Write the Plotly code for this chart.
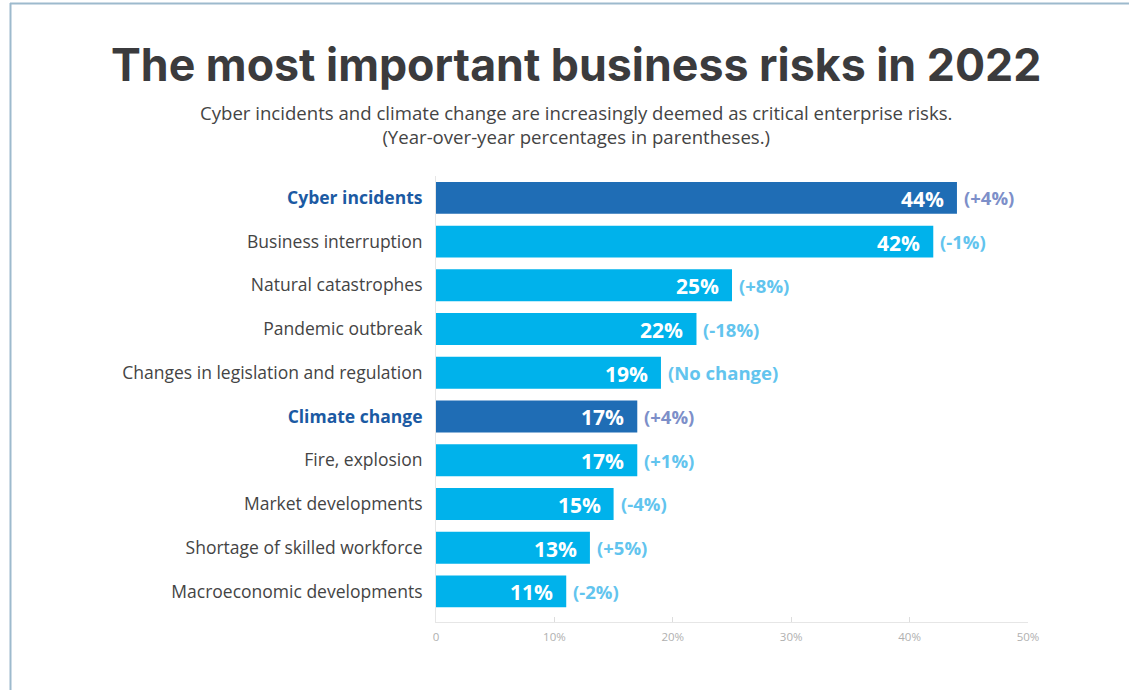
import plotly.graph_objects as go

categories = ["Cyber incidents", "Business interruption", "Natural catastrophes",
              "Pandemic outbreak", "Changes in legislation and regulation",
              "Climate change", "Fire, explosion", "Market developments",
              "Shortage of skilled workforce", "Macroeconomic developments"]
values = [44, 42, 25, 22, 19, 17, 17, 15, 13, 11]
changes = ["(+4%)", "(-1%)", "(+8%)", "(-18%)", "(No change)",
           "(+4%)", "(+1%)", "(-4%)", "(+5%)", "(-2%)"]
highlight = [True, False, False, False, False, True, False, False, False, False]
tick_vals = [0, 10, 20, 30, 40, 50]
tick_text = ["0", "10%", "20%", "30%", "40%", "50%"]

DARK = "#1f6db5"
LIGHT = "#00b2eb"
DARK_TXT = "#7d8fc9"
LIGHT_TXT = "#62c4ee"

W, H = 1129, 690
ml, mr, mt, mb = 436, 101, 176, 68

def py(pix):
    return (H - mb - pix) / (H - mt - mb)

def px(pix):
    return (pix - ml) / (W - ml - mr)

bar_colors = [DARK if h else LIGHT for h in highlight]
ticktext_y = [
    f"<b><span style='color:#1b5aa3'>{c}</span></b>" if h else c
    for c, h in zip(categories, highlight)
]

fig = go.Figure()
fig.add_trace(go.Bar(
    x=values, y=categories, orientation="h",
    marker=dict(color=bar_colors, line=dict(width=0)),
    hoverinfo="skip",
))

for c, v, ch, h in zip(categories, values, changes, highlight):
    fig.add_annotation(
        x=v, y=c, xref="x", yref="y", text=f"<b>{v}%</b>",
        showarrow=False, xanchor="right", xshift=-11, yshift=-1,
        font=dict(size=21, color="white", family="Open Sans"),
    )
    fig.add_annotation(
        x=v, y=c, xref="x", yref="y", text=f"<b>{ch}</b>",
        showarrow=False, xanchor="left", xshift=5,
        font=dict(size=18.5, color=DARK_TXT if h else LIGHT_TXT, family="Open Sans"),
    )

fig.add_annotation(
    x=px(576), y=py(65), xref="paper", yref="paper",
    xanchor="center", yanchor="middle",
    text="<b>The most important business risks in 2022</b>", showarrow=False,
    font=dict(size=44.7, color="#3b3b3d", family="Inter", weight=900),
)
fig.add_annotation(
    x=px(576), y=py(124), xref="paper", yref="paper",
    xanchor="center", yanchor="middle", showarrow=False,
    text="Cyber incidents and climate change are increasingly deemed as critical enterprise risks.<br>(Year-over-year percentages in parentheses.)",
    font=dict(size=18.6, color="#444444", family="Open Sans"),
)

fig.update_layout(
    width=W, height=H,
    margin=dict(l=ml, r=mr, t=mt, b=mb),
    paper_bgcolor="white", plot_bgcolor="white",
    showlegend=False, bargap=0.27,
    xaxis=dict(range=[0, 50], tickvals=tick_vals, ticktext=tick_text,
               showgrid=False, zeroline=False, showline=True,
               linecolor="#e6e6e6", linewidth=1,
               ticks="inside", ticklen=5, tickcolor="#dddddd",
               ticklabelstandoff=4,
               tickfont=dict(size=11.5, color="#b0b0b0", family="Open Sans"),
               fixedrange=True),
    yaxis=dict(type="category", categoryarray=categories, range=[9.7, -0.5],
               tickvals=categories, ticktext=ticktext_y,
               showgrid=False, zeroline=False, showline=True,
               linecolor="#e6e6e6", linewidth=1,
               ticks="outside", ticklen=9, tickcolor="rgba(0,0,0,0)",
               tickfont=dict(size=17.5, color="#444444", family="Open Sans"),
               fixedrange=True),
    shapes=[
        dict(type="line", xref="paper", yref="paper",
             x0=px(10), x1=px(1129), y0=py(3.5), y1=py(3.5),
             line=dict(color="#9dbacd", width=2)),
        dict(type="line", xref="paper", yref="paper",
             x0=px(10.5), x1=px(10.5), y0=py(3), y1=py(690),
             line=dict(color="#9dbacd", width=2)),
    ],
)

fig.write_html("out.html")
